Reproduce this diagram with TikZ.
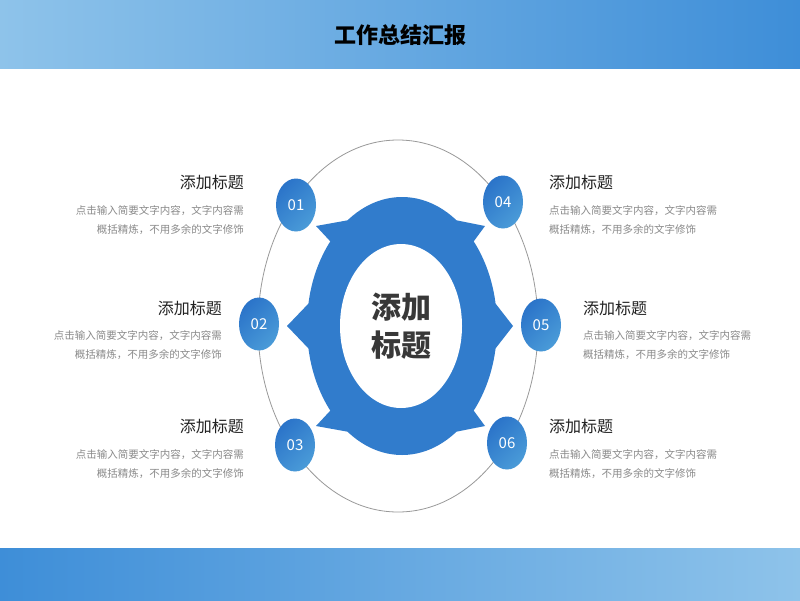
\documentclass[tikz,border=0pt]{standalone}
\usepackage{fontspec}
\setmainfont{Noto Sans CJK SC}
\usetikzlibrary{shapes.geometric}
\definecolor{bA}{HTML}{2B74C9}
\definecolor{bB}{HTML}{4A9BD8}
\definecolor{bandA}{HTML}{3E8ED8}
\definecolor{bandB}{HTML}{8EC3EA}
\definecolor{tg}{HTML}{222222}
\definecolor{dg}{HTML}{8A8A8A}
\begin{document}
\begin{tikzpicture}[x=1pt,y=-1pt,
  num/.style={ellipse,minimum width=40pt,minimum height=53pt,inner sep=0pt,text=white,font=\fontsize{15}{15}\selectfont,left color=bA,right color=bB,shading angle=45,draw=none},
  ttl/.style={font=\fontsize{16}{16}\selectfont,text=tg,inner sep=0pt},
  dsc/.style={font=\fontsize{10.5}{19.5}\selectfont,text=dg,inner sep=0pt}]
\useasboundingbox (0,0) rectangle (800,600);
\fill[white] (0,0) rectangle (800,600);
\shade[left color=bandB,right color=bandA] (0,0) rectangle (800,68);
\shade[left color=bandA,right color=bandB] (0,548) rectangle (800,600);
\node[font=\fontsize{22}{22}\selectfont\bfseries,text=black] (title) at (400,35) {工作总结汇报};
% outer gray ellipse
\draw[gray!80,line width=0.8pt] (398,326) ellipse [x radius=140,y radius=186];
% blue ring
\def\cx{402}\def\cy{326}
\fill[bA!80!bB] (\cx,\cy) ellipse [x radius=95,y radius=129];
\foreach \a/\w/\tx/\ty in {180/10/287/326, 0/10/513/326, 132/7/316/226, 48/7/485/226, 228/7/316/426, 312/7/485/426}{
  \fill[bA!80!bB] ({\cx+95*cos(\a-\w)},{\cy-129*sin(\a-\w)}) -- (\tx,\ty) -- ({\cx+95*cos(\a+\w)},{\cy-129*sin(\a+\w)}) -- (\cx,\cy) -- cycle;
}
\fill[white] (401,326) ellipse [x radius=61,y radius=82];
\node[font=\fontsize{30}{38}\selectfont\bfseries,text=tg!90!white,align=center] (center) at (401,326) {添加\\标题};
% numbers
\node[num] (n1) at (296,205) {01};
\node[num] (n2) at (259,324) {02};
\node[num] (n3) at (295,445) {03};
\node[num] (n4) at (503,202) {04};
\node[num] (n5) at (541,325) {05};
\node[num] (n6) at (507,443) {06};
% left texts
\node[ttl,anchor=east] (t1) at (244,182) {添加标题};
\node[dsc,anchor=north east,align=right] (d1) at (244,205) {点击输入简要文字内容，文字内容需\\概括精炼，不用多余的文字修饰};
\node[ttl,anchor=east] (t2) at (222,308) {添加标题};
\node[dsc,anchor=north east,align=right] (d2) at (222,330) {点击输入简要文字内容，文字内容需\\概括精炼，不用多余的文字修饰};
\node[ttl,anchor=east] (t3) at (244,426) {添加标题};
\node[dsc,anchor=north east,align=right] (d3) at (244,449) {点击输入简要文字内容，文字内容需\\概括精炼，不用多余的文字修饰};
% right texts
\node[ttl,anchor=west] (t4) at (549,182) {添加标题};
\node[dsc,anchor=north west,align=left] (d4) at (549,205) {点击输入简要文字内容，文字内容需\\概括精炼，不用多余的文字修饰};
\node[ttl,anchor=west] (t5) at (583,308) {添加标题};
\node[dsc,anchor=north west,align=left] (d5) at (583,330) {点击输入简要文字内容，文字内容需\\概括精炼，不用多余的文字修饰};
\node[ttl,anchor=west] (t6) at (549,426) {添加标题};
\node[dsc,anchor=north west,align=left] (d6) at (549,449) {点击输入简要文字内容，文字内容需\\概括精炼，不用多余的文字修饰};
\end{tikzpicture}
\end{document}
